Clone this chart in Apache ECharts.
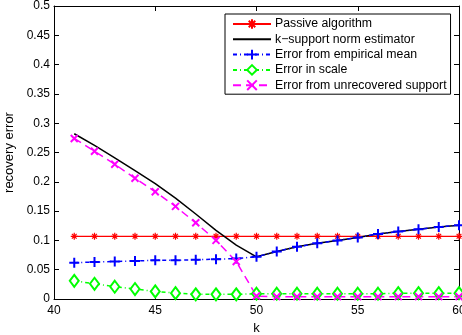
<!DOCTYPE html>
<html>
<head>
<meta charset="utf-8">
<script src="https://cdn.jsdelivr.net/npm/echarts@6/dist/echarts.min.js"></script>
<style>
  html, body { margin: 0; padding: 0; background: #fff; }
  #main { width: 462px; height: 335px; }
</style>
</head>
<body>
<div id="main"></div>
<script>
var chartDom = document.getElementById('main');
var myChart = echarts.init(chartDom);

const ks = [41, 42, 43, 44, 45, 46, 47, 48, 49, 50, 51, 52, 53, 54, 55, 56, 57, 58, 59, 60];
const passive = [0.107, 0.107, 0.107, 0.107, 0.107, 0.107, 0.107, 0.107, 0.107, 0.107,
  0.107, 0.107, 0.107, 0.107, 0.107, 0.107, 0.107, 0.107, 0.107, 0.107];
const kSupport = [0.282, 0.262, 0.241, 0.219, 0.197, 0.172, 0.145, 0.117, 0.092, 0.072,
  0.081, 0.089, 0.095, 0.100, 0.105, 0.111, 0.115, 0.119, 0.123, 0.126];
const empMean = [0.062, 0.063, 0.064, 0.065, 0.066, 0.066, 0.067, 0.068, 0.069, 0.072,
  0.081, 0.089, 0.095, 0.100, 0.105, 0.111, 0.115, 0.119, 0.123, 0.126];
const scaleErr = [0.031, 0.026, 0.021, 0.017, 0.013, 0.010, 0.008, 0.008, 0.008, 0.009,
  0.009, 0.009, 0.009, 0.009, 0.009, 0.009, 0.010, 0.010, 0.010, 0.010];
const unrecovered = [0.274, 0.252, 0.230, 0.206, 0.183, 0.158, 0.130, 0.100, 0.064, 0.005,
  0.004, 0.004, 0.004, 0.004, 0.004, 0.004, 0.004, 0.004, 0.004, 0.004];
const seriesNames = ['Passive algorithm', 'k\u2212support norm estimator', 'Error from empirical mean',
  'Error in scale', 'Error from unrecovered support'];

const font = 'Liberation Sans, Arial, sans-serif';
const star = 'path://M5,0V10M0,5H10M1.6,1.6L8.4,8.4M8.4,1.6L1.6,8.4';
const plus = 'path://M5,0V10M0,5H10';
const cross = 'path://M0,0L10,10M10,0L0,10';

function pairs(arr) {
  return arr.map((v, i) => [ks[i], v]);
}

function mirrorX(pos) {
  return {
    type: 'value', position: pos, min: 40, max: 60, interval: 5,
    axisLine: { show: true, onZero: false, lineStyle: { color: '#000', width: 1 } },
    axisTick: { show: true, inside: true, length: 5, lineStyle: { color: '#000' } },
    axisLabel: pos === 'bottom' ? { color: '#000', fontSize: 12, fontFamily: font, margin: 6 } : { show: false },
    splitLine: { show: false },
    name: pos === 'bottom' ? 'k' : '', nameLocation: 'middle', nameGap: 22,
    nameTextStyle: { color: '#000', fontSize: 13, fontFamily: font }
  };
}

function mirrorY(pos) {
  return {
    type: 'value', position: pos, min: 0, max: 0.5, interval: 0.05,
    axisLine: { show: true, onZero: false, lineStyle: { color: '#000', width: 1 } },
    axisTick: { show: true, inside: true, length: 5, lineStyle: { color: '#000' } },
    axisLabel: pos === 'left' ? {
      color: '#000', fontSize: 12, fontFamily: font, margin: 4,
      formatter: v => String(parseFloat(v.toFixed(2)))
    } : { show: false },
    splitLine: { show: false },
    name: pos === 'left' ? 'recovery error' : '', nameLocation: 'middle', nameGap: 35,
    nameTextStyle: { color: '#000', fontSize: 13, fontFamily: font }
  };
}

var option = {
  animation: false,
  backgroundColor: '#fff',
  grid: { left: 54, right: 3, top: 6, bottom: 36, outerBoundsMode: 'none' },
  xAxis: [mirrorX('bottom'), mirrorX('top')],
  yAxis: [mirrorY('left'), mirrorY('right')],
  legend: {
    left: 225, top: 14, orient: 'vertical',
    backgroundColor: '#fff', borderColor: '#000', borderWidth: 1,
    padding: [4, 4, 3, 7], itemGap: 3.3, itemWidth: 38, itemHeight: 12,
    textStyle: { color: '#000', fontSize: 12.3, fontFamily: font, padding: [0, 0, 0, -1] },
    data: [
      seriesNames[0],
      { name: seriesNames[1], itemStyle: { opacity: 0 } },
      seriesNames[2], seriesNames[3], seriesNames[4]
    ]
  },
  series: [
    {
      name: seriesNames[0], type: 'line', data: pairs(passive),
      symbol: star, symbolSize: 7,
      lineStyle: { color: '#ff0000', width: 1.2 },
      itemStyle: { color: '#ff0000', borderColor: '#ff0000', borderWidth: 1.2 }
    },
    {
      name: seriesNames[1], type: 'line', data: pairs(kSupport),
      symbol: 'none',
      lineStyle: { color: '#000', width: 1.5 },
      itemStyle: { color: '#000' }
    },
    {
      name: seriesNames[2], type: 'line', data: pairs(empMean),
      symbol: plus, symbolSize: 10,
      lineStyle: { color: '#0000ff', width: 1.5, type: [4, 3, 1, 3] },
      itemStyle: { color: '#0000ff', borderColor: '#0000ff', borderWidth: 2 }
    },
    {
      name: seriesNames[3], type: 'line', data: pairs(scaleErr),
      symbol: 'emptyDiamond', symbolSize: [9, 12],
      lineStyle: { color: '#00ff00', width: 1.5, type: [4, 3, 1, 3] },
      itemStyle: { color: '#00ff00', borderColor: '#00ff00', borderWidth: 1.5 }
    },
    {
      name: seriesNames[4], type: 'line', data: pairs(unrecovered),
      symbol: cross, symbolSize: 7,
      lineStyle: { color: '#ff00ff', width: 1.5, type: [8, 5] },
      itemStyle: { color: '#ff00ff', borderColor: '#ff00ff', borderWidth: 2 }
    }
  ]
};

option && myChart.setOption(option);
</script>
</body>
</html>
